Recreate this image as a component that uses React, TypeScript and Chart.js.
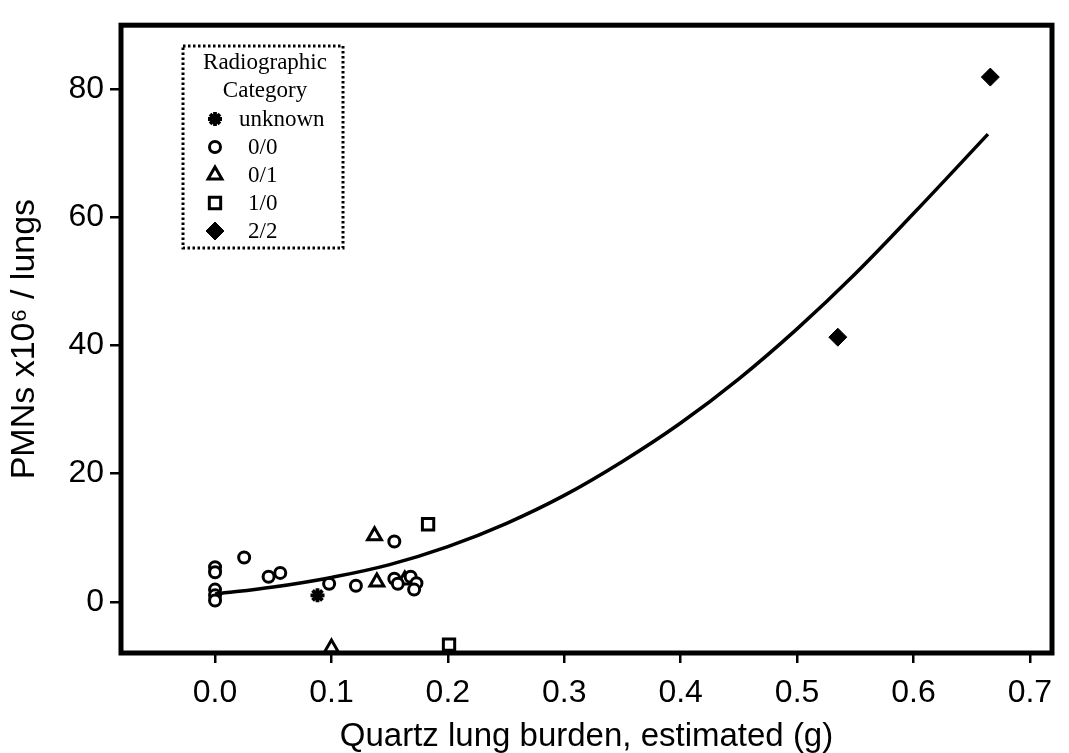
import React, { useEffect, useRef } from "react";
import { Chart, registerables } from "chart.js";
import { drawPoint } from "chart.js/helpers";

Chart.register(...registerables);

// ---- data ----
const unknownX = [0.088];
const unknownY = [1.0];

const cat00X = [0, 0, 0, 0, 0, 0.025, 0.046, 0.056, 0.098, 0.121, 0.154, 0.154, 0.157, 0.168, 0.173, 0.171];
const cat00Y = [5.4, 4.6, 1.9, 1.0, 0.2, 6.9, 3.9, 4.5, 2.8, 2.5, 9.4, 3.6, 2.8, 3.9, 2.9, 1.9];

const cat01X = [0.137, 0.139, 0.163, 0.1];
const cat01Y = [10.3, 3.1, 3.4, -7.2];

const cat10X = [0.183, 0.201];
const cat10Y = [12.1, -6.7];

const cat22X = [0.535, 0.666];
const cat22Y = [41.3, 81.9];

const fitX = [0, 0.05, 0.1, 0.15, 0.2, 0.25, 0.3, 0.35, 0.4, 0.45, 0.5, 0.55, 0.6, 0.664];
const fitY = [1.2, 2.3, 3.8, 5.8, 8.6, 12.2, 16.6, 21.9, 27.9, 34.8, 42.6, 51.2, 60.6, 73.0];

const xTicks = [0, 0.1, 0.2, 0.3, 0.4, 0.5, 0.6, 0.7];
const yTicks = [0, 20, 40, 60, 80];

const legendTitle = ["Radiographic", "Category"];
const legendLabels = ["unknown", "0/0", "0/1", "1/0", "2/2"];

const xTitle = "Quartz lung burden, estimated (g)";
const yTitle = "PMNs x10\u2076 / lungs";

const zip = (xs: number[], ys: number[]) => xs.map((x, i) => ({ x, y: ys[i] }));

const SANS = "'Liberation Sans', Arial, sans-serif";
const SERIF = "'Liberation Serif', 'Times New Roman', serif";

const markerStyles = [
  { pointStyle: "star", radius: 7, borderWidth: 3.8, fill: "#000" },
  { pointStyle: "circle", radius: 5.5, borderWidth: 3, fill: "#fff" },
  { pointStyle: "triangle", radius: 8, borderWidth: 3, fill: "#fff" },
  { pointStyle: "rect", radius: 8, borderWidth: 3, fill: "#fff" },
  { pointStyle: "rectRot", radius: 9, borderWidth: 1, fill: "#000" },
];

const framePlugin = {
  id: "frame",
  afterDatasetsDraw(chart: any) {
    const { ctx, chartArea } = chart;
    ctx.save();
    ctx.strokeStyle = "#000";
    ctx.lineWidth = 5;
    ctx.strokeRect(chartArea.left, chartArea.top, chartArea.right - chartArea.left, chartArea.bottom - chartArea.top);
    ctx.restore();
  },
};

const legendPlugin = {
  id: "customLegend",
  afterDraw(chart: any) {
    const { ctx } = chart;
    const bx = 183, by = 46, bw = 160, bh = 202;
    ctx.save();
    ctx.strokeStyle = "#000";
    ctx.lineWidth = 3;
    ctx.setLineDash([2.5, 2.5]);
    ctx.strokeRect(bx, by, bw, bh);
    ctx.setLineDash([]);
    ctx.fillStyle = "#000";
    ctx.font = `23px ${SERIF}`;
    ctx.textBaseline = "middle";
    ctx.textAlign = "center";
    legendTitle.forEach((t, i) => ctx.fillText(t, bx + bw / 2 + 2, 63 + i * 28));
    ctx.textAlign = "left";
    legendLabels.forEach((t, i) => {
      const y = 119 + i * 28;
      const m = markerStyles[i];
      ctx.fillStyle = m.fill;
      ctx.strokeStyle = "#000";
      ctx.lineWidth = m.borderWidth;
      drawPoint(ctx, { pointStyle: m.pointStyle, radius: m.radius, rotation: 0, borderWidth: m.borderWidth }, 215, y);
      ctx.fillStyle = "#000";
      ctx.fillText(t, i === 0 ? 239 : 248, y + 1);
    });
    ctx.restore();
  },
};

export default function App() {
  const canvasRef = useRef<HTMLCanvasElement | null>(null);

  useEffect(() => {
    document.body.style.margin = "0";
    const canvas = canvasRef.current;
    if (!canvas) return;
    const pointDs = (label: string, xs: number[], ys: number[], idx: number) => {
      const m = markerStyles[idx];
      return {
        type: "scatter" as const,
        label,
        data: zip(xs, ys),
        pointStyle: m.pointStyle,
        pointRadius: m.radius,
        pointBorderWidth: m.borderWidth,
        pointBackgroundColor: m.fill,
        pointBorderColor: "#000",
        showLine: false,
        clip: false as any,
      };
    };
    const chart = new Chart(canvas, {
      type: "scatter",
      data: {
        datasets: [
          {
            type: "line",
            label: "fit",
            data: zip(fitX, fitY),
            borderColor: "#000",
            borderWidth: 3.5,
            pointRadius: 0,
            fill: false,
            tension: 0.4,
          } as any,
          pointDs(legendLabels[1], cat00X, cat00Y, 1),
          pointDs(legendLabels[2], cat01X, cat01Y, 2),
          pointDs(legendLabels[3], cat10X, cat10Y, 3),
          pointDs(legendLabels[0], unknownX, unknownY, 0),
          pointDs(legendLabels[4], cat22X, cat22Y, 4),
        ],
      },
      options: {
        animation: false,
        responsive: false,
        maintainAspectRatio: false,
        layout: { padding: { top: 14, right: 17, left: 0, bottom: 0 } },
        plugins: { legend: { display: false }, tooltip: { enabled: false } },
        scales: {
          x: {
            type: "linear",
            min: -0.0808,
            max: 0.719,
            afterBuildTicks: (s: any) => {
              s.ticks = xTicks.map((v) => ({ value: v }));
            },
            afterFit: (s: any) => {
              s.height = 100;
            },
            border: { display: false },
            grid: { display: true, drawOnChartArea: false, drawTicks: true, tickLength: 10, color: "#000", lineWidth: 2.5 },
            ticks: {
              color: "#000",
              font: { family: SANS, size: 32 },
              padding: 11,
              maxRotation: 0,
              callback: (v: any) => Number(v).toFixed(1),
            },
            title: {
              display: true,
              text: xTitle,
              color: "#000",
              font: { family: SANS, size: 33, lineHeight: 1 },
              padding: { top: 0, bottom: 0 },
            },
          },
          y: {
            type: "linear",
            min: -8,
            max: 90,
            afterBuildTicks: (s: any) => {
              s.ticks = yTicks.map((v) => ({ value: v }));
            },
            afterFit: (s: any) => {
              s.width = 121;
            },
            border: { display: false },
            grid: { display: true, drawOnChartArea: false, drawTicks: true, tickLength: 11, color: "#000", lineWidth: 2.5 },
            ticks: {
              color: "#000",
              font: { family: SANS, size: 32 },
              padding: 6,
              callback: (v: any) => String(v),
            },
            title: {
              display: true,
              text: yTitle,
              color: "#000",
              font: { family: SANS, size: 34, lineHeight: 1 },
              padding: { top: 8, bottom: 0 },
            },
          },
        },
      },
      plugins: [framePlugin, legendPlugin],
    });
    return () => chart.destroy();
  }, []);

  return (
    <div style={{ width: 1069, height: 753, background: "#fff" }}>
      <canvas ref={canvasRef} width={1069} height={753} style={{ display: "block" }} />
    </div>
  );
}
